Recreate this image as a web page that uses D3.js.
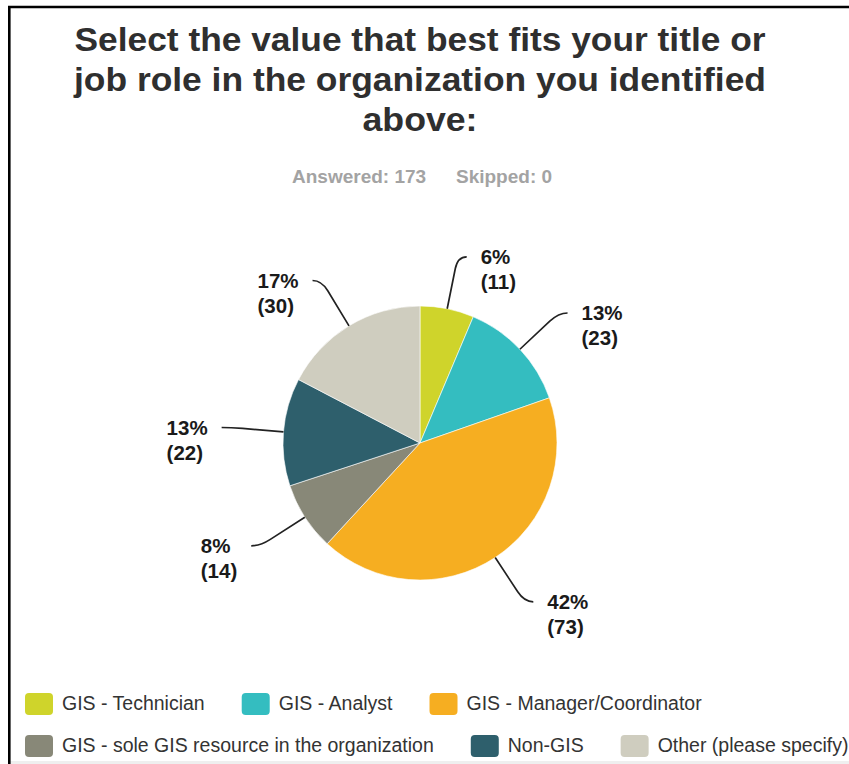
<!DOCTYPE html>
<html>
<head>
<meta charset="utf-8">
<script src="https://cdn.jsdelivr.net/npm/d3@7/dist/d3.min.js"></script>
<style>
  html, body { margin: 0; padding: 0; background: #fff; }
  svg { display: block; font-family: "Liberation Sans", Arial, Helvetica, sans-serif; }
</style>
</head>
<body>
<svg id="chart" width="849" height="764"></svg>
<script>
// Survey question and response summary
const titleLines = [
  "Select the value that best fits your title or",
  "job role in the organization you identified",
  "above:"
];
const answered = 173;
const skipped = 0;

// Response categories, counts and slice colours
const categories = [
  "GIS - Technician",
  "GIS - Analyst",
  "GIS - Manager/Coordinator",
  "GIS - sole GIS resource in the organization",
  "Non-GIS",
  "Other (please specify)"
];
const counts = [11, 23, 73, 14, 22, 30];
const colors = ["#cfd42b", "#34bdc0", "#f6ae21", "#888878", "#2e5f6c", "#cfcdbf"];

// Legend rows (indices into categories)
const legendRows = [[0, 1, 2], [3, 4, 5]];

const svg = d3.select("#chart");
const W = 849, H = 764;

// Card frame
svg.append("rect").attr("x", 10).attr("y", 761).attr("width", W - 10).attr("height", 3).attr("fill", "#efefef");
svg.append("path")
  .attr("d", `M9.3,${H} V7 H${W}`)
  .attr("fill", "none").attr("stroke", "#000").attr("stroke-width", 2.6);

// Title
const titleWidths = [691, 692, 115];
svg.append("g").selectAll("text").data(titleLines).join("text")
  .attr("x", 420)
  .attr("y", (d, i) => 51 + i * 40)
  .attr("text-anchor", "middle")
  .attr("font-size", 33.5)
  .attr("font-weight", "bold")
  .attr("fill", "#2f2f2f")
  .attr("textLength", (d, i) => titleWidths[i])
  .attr("lengthAdjust", "spacingAndGlyphs")
  .text(d => d);

// Answered / skipped line
const sub = svg.append("text")
  .attr("y", 182.5)
  .attr("font-size", 19)
  .attr("font-weight", "bold")
  .attr("fill", "#a3a3a3");
sub.append("tspan").attr("x", 292).text(`Answered: ${answered}`);
sub.append("tspan").attr("x", 456).text(`Skipped: ${skipped}`);

// Pie
const cx = 420, cy = 443, r = 137;
const total = d3.sum(counts);
const pie = d3.pie().sort(null).value(d => d)(counts);
const arc = d3.arc().innerRadius(0).outerRadius(r);

const g = svg.append("g").attr("transform", `translate(${cx},${cy})`);
g.selectAll("path").data(pie).join("path")
  .attr("d", arc)
  .attr("fill", (d, i) => colors[i])
  .attr("stroke", "#fff")
  .attr("stroke-width", 0.6);

// Leader lines and value labels
const pct = d3.format(".0%");
const at = (a, R) => [R * Math.sin(a), -R * Math.cos(a)];
const labels = svg.append("g").attr("transform", `translate(${cx},${cy})`);

pie.forEach((d, i) => {
  const a = (d.startAngle + d.endAngle) / 2;
  const right = Math.sin(a) > 0;
  const p0 = at(a, r);
  const p1 = at(a, r + 41);
  const corner = at(a, r + 53);
  const end = [corner[0] + (right ? 9 : -9), corner[1]];
  labels.append("path")
    .attr("d", `M${p0[0]},${p0[1]} L${p1[0]},${p1[1]} Q${corner[0]},${corner[1]} ${end[0]},${end[1]}`)
    .attr("fill", "none").attr("stroke", "#222").attr("stroke-width", 1.7);

  const lines = [pct(d.value / total), `(${d.value})`];
  const t = labels.append("text")
    .attr("font-size", 20.5)
    .attr("font-weight", "bold")
    .attr("fill", "#1a1a1a");
  const spans = lines.map((s, k) => t.append("tspan").attr("y", end[1] + 7.2 + k * 25).text(s));
  const maxW = d3.max(spans, s => s.node().getComputedTextLength());
  const x0 = right ? end[0] + 14 : end[0] - 14 - maxW;
  spans.forEach(s => s.attr("x", x0));
});

// Legend
const legend = svg.append("g");
legendRows.forEach((row, ri) => {
  let x = 25;
  const y = 693 + ri * 42;
  row.forEach(ci => {
    legend.append("rect")
      .attr("x", x).attr("y", y)
      .attr("width", 28).attr("height", 22)
      .attr("rx", 4)
      .attr("fill", colors[ci]);
    const txt = legend.append("text")
      .attr("x", x + 37)
      .attr("y", y + 17)
      .attr("font-size", 19.5)
      .attr("fill", "#333")
      .text(categories[ci]);
    x = x + 37 + txt.node().getComputedTextLength() + 37;
  });
});
</script>
</body>
</html>
